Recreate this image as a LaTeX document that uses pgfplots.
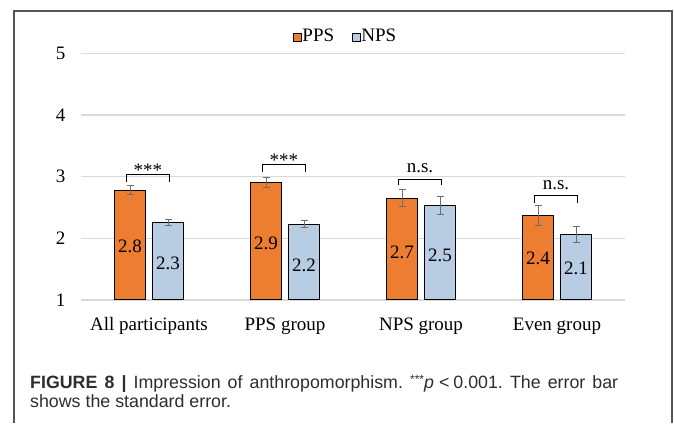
\documentclass[border=0pt]{standalone}
\usepackage{fontspec}
\setmainfont{Liberation Serif}
\newfontfamily\capfont{Liberation Sans}
\usepackage{pgfplots}
\pgfplotsset{compat=1.18}
\frenchspacing
\definecolor{ppsorange}{RGB}{237,125,49}
\definecolor{npsblue}{RGB}{184,204,228}
\definecolor{gridgray}{RGB}{217,217,217}
\definecolor{errgray}{RGB}{110,110,110}
\definecolor{framegray}{RGB}{85,85,85}
\definecolor{captext}{RGB}{45,45,45}
\tikzset{lbl/.style={font=\fontsize{19}{23}\selectfont, text=black}}
\pgfplotsset{
  commonaxis/.style={
    at={(81pt,123pt)}, anchor=south west,
    scale only axis, width=544pt, height=246.7pt,
    xmin=-0.5, xmax=3.5, ymin=1, ymax=5,
  },
}
\begin{document}
\frenchspacing
\begin{tikzpicture}
\useasboundingbox (0,0) rectangle (674pt,423pt);
\draw[line width=1.2pt, color=framegray] (14pt,0pt) -- (14pt,412pt) -- (672pt,412pt) -- (672pt,0pt);
\begin{axis}[
  commonaxis,
  ybar=7pt, bar width=31pt,
  xtick={0,1,2,3},
  xticklabels={All participants,PPS group,NPS group,Even group},
  ytick={1,2,3,4,5},
  axis line style={draw=none}, tick style={draw=none},
  ymajorgrids, grid style={color=gridgray, line width=1.2pt},
  ticklabel style={font=\fontsize{19}{23}\selectfont, text=black},
  /pgf/number format/assume math mode=true,
  yticklabel style={xshift=-12pt},
  xticklabel style={yshift=-10pt, text height=13pt, text depth=4pt},
  legend style={at={(axis description cs:0.485,1.07)}, anchor=center,
    draw=none, fill=none, legend columns=2,
    font=\fontsize{19}{23}\selectfont,
    nodes={inner sep=0.6pt, text=black},
    /tikz/every even column/.append style={column sep=17pt}},
  legend image code/.code={\draw[#1] (0pt,-5pt) rectangle (8pt,3pt);},
]
\addplot[fill=ppsorange, draw=black, line width=1pt,
  error bars/.cd, y dir=both, y explicit,
  error bar style={color=errgray, line width=1pt},
  error mark options={rotate=90, color=errgray, line width=1pt, mark size=3.5pt}]
  coordinates {(0,2.78) +- (0,0.07) (1,2.91) +- (0,0.08) (2,2.65) +- (0,0.14) (3,2.37) +- (0,0.16)};
\addlegendentry{PPS}
\addplot[fill=npsblue, draw=black, line width=1pt,
  error bars/.cd, y dir=both, y explicit,
  error bar style={color=errgray, line width=1pt},
  error mark options={rotate=90, color=errgray, line width=1pt, mark size=3.5pt}]
  coordinates {(0,2.25) +- (0,0.05) (1,2.23) +- (0,0.06) (2,2.53) +- (0,0.15) (3,2.06) +- (0,0.13)};
\addlegendentry{NPS}
\end{axis}
\begin{axis}[commonaxis, hide axis, clip=false]
% value labels
\addplot[draw=none, mark=none, nodes near coords, point meta=explicit symbolic,
  every node near coord/.append style={anchor=center, xshift=-19pt, lbl}]
  coordinates {(0,1.864)[2.8] (1,1.92)[2.9] (2,1.78)[2.7] (3,1.68)[2.4]};
\addplot[draw=none, mark=none, nodes near coords, point meta=explicit symbolic,
  every node near coord/.append style={anchor=center, xshift=19pt, lbl}]
  coordinates {(0,1.60)[2.3] (1,1.57)[2.2] (2,1.73)[2.5] (3,1.52)[2.1]};
% significance brackets
\addplot[black, line width=1pt, mark=none] coordinates {(-0.165,2.92) (-0.165,3.04) (0.15,3.04) (0.15,2.92)};
\addplot[black, line width=1pt, mark=none] coordinates {(0.835,3.08) (0.835,3.20) (1.15,3.20) (1.15,3.08)};
\addplot[black, line width=1pt, mark=none] coordinates {(1.835,2.86) (1.835,2.96) (2.15,2.96) (2.15,2.86)};
\addplot[black, line width=1pt, mark=none] coordinates {(2.835,2.58) (2.835,2.69) (3.15,2.69) (3.15,2.58)};
\node[anchor=base, lbl] at (axis cs:-0.0075,3.0) {***};
\node[anchor=base, lbl] at (axis cs:0.9925,3.16) {***};
\node[anchor=base, lbl] at (axis cs:1.9925,3.06) {n.s.};
\node[anchor=base, lbl] at (axis cs:2.9925,2.79) {n.s.};
\end{axis}
\node[anchor=base west, inner sep=0pt, text=captext, font=\capfont\fontsize{17.8}{19.5}\selectfont] at (30pt,34.7pt)
  {\makebox[588pt][s]{\textbf{FIGURE 8 |} Impression of anthropomorphism. {\fontsize{12}{12}\selectfont\raisebox{4.5pt}{***}}\textit{p}\hspace{5pt}<\hspace{4pt}0.001. The error bar}};
\node[anchor=base west, inner sep=0pt, text=captext, font=\capfont\fontsize{17.8}{19.5}\selectfont] at (30pt,15.3pt)
  {shows the standard error.};
\end{tikzpicture}
\end{document}
